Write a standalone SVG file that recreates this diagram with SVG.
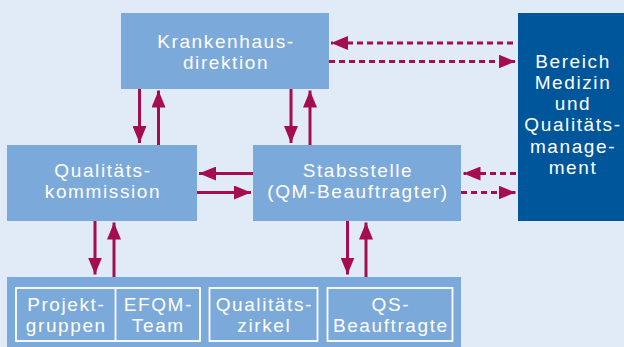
<svg xmlns="http://www.w3.org/2000/svg" width="624" height="347" viewBox="0 0 624 347">
<defs>
<marker id="ah" viewBox="0 0 17 14" refX="17" refY="7" markerWidth="17" markerHeight="14" markerUnits="userSpaceOnUse" orient="auto">
<path d="M0,0 L17,7 L0,14 Z" fill="#a50d4f"/>
</marker>
<style>
.box{fill:#7ba9da}
.dark{fill:#00569a}
.cell{fill:none;stroke:#ffffff;stroke-width:1.8}
.t{font-family:"Liberation Sans",Arial,sans-serif;font-size:19px;letter-spacing:1.6px;fill:#ffffff;text-anchor:middle}
.c{stroke:#a50d4f;stroke-width:3;fill:none;marker-end:url(#ah)}
.d{stroke-dasharray:6 4}
</style>
</defs>
<rect width="624" height="347" fill="#e1ebf7"/>
<g id="krankenhausdirektion">
<rect class="box" x="121" y="13" width="208" height="76"/>
<text class="t" x="226" y="47.5">Krankenhaus-<tspan x="226" dy="21.4">direktion</tspan></text>
</g>
<g id="bereich">
<rect class="dark" x="518" y="13" width="106" height="208"/>
<text class="t" x="573" y="67.5">Bereich<tspan x="573" dy="21.3">Medizin</tspan><tspan x="573" dy="21.3">und</tspan><tspan x="573" dy="21.3">Qualitäts-</tspan><tspan x="573" dy="21.3">manage-</tspan><tspan x="573" dy="21.3">ment</tspan></text>
</g>
<g id="qualitaetskommission">
<rect class="box" x="7" y="145" width="190" height="76"/>
<text class="t" x="103" y="177">Qualitäts-<tspan x="103" dy="21.4">kommission</tspan></text>
</g>
<g id="stabsstelle">
<rect class="box" x="253" y="145" width="208" height="76"/>
<text class="t" x="358" y="177">Stabsstelle<tspan x="358" dy="21.4">(QM-Beauftragter)</tspan></text>
</g>
<g id="gruppen">
<rect class="box" x="7" y="277" width="454" height="70"/>
<rect class="cell" x="16" y="288" width="184" height="53"/>
<line class="cell" x1="115.5" y1="288" x2="115.5" y2="341"/>
<rect class="cell" x="209.5" y="288" width="108" height="53"/>
<rect class="cell" x="327.5" y="288" width="125" height="53"/>
<text class="t" x="66.3" y="310.5">Projekt-<tspan x="66.3" dy="21.4">gruppen</tspan></text>
<text class="t" x="158.3" y="310.5">EFQM-<tspan x="158.3" dy="21.4">Team</tspan></text>
<text class="t" x="264.3" y="310.5">Qualitäts-<tspan x="264.3" dy="21.4">zirkel</tspan></text>
<text class="t" x="390.8" y="310.5">QS-<tspan x="390.8" dy="21.4">Beauftragte</tspan></text>
</g>
<g id="connectors">
<line class="c" x1="139.5" y1="89" x2="139.5" y2="143"/>
<line class="c" x1="158.5" y1="145" x2="158.5" y2="90.5"/>
<line class="c" x1="291" y1="89" x2="291" y2="143"/>
<line class="c" x1="310" y1="145" x2="310" y2="90.5"/>
<line class="c" x1="253" y1="173.5" x2="199" y2="173.5"/>
<line class="c" x1="197" y1="192.5" x2="251" y2="192.5"/>
<line class="c" x1="95" y1="221" x2="95" y2="274.5"/>
<line class="c" x1="114" y1="277" x2="114" y2="222.5"/>
<line class="c" x1="347.5" y1="221" x2="347.5" y2="274.5"/>
<line class="c" x1="366" y1="277" x2="366" y2="222.5"/>
<line class="c d" x1="513" y1="43" x2="331" y2="43"/>
<line class="c d" x1="329" y1="61.5" x2="515.5" y2="61.5"/>
<line class="c d" x1="516" y1="173.5" x2="463.5" y2="173.5"/>
<line class="c d" x1="461" y1="192.5" x2="515.5" y2="192.5"/>
</g>
</svg>
